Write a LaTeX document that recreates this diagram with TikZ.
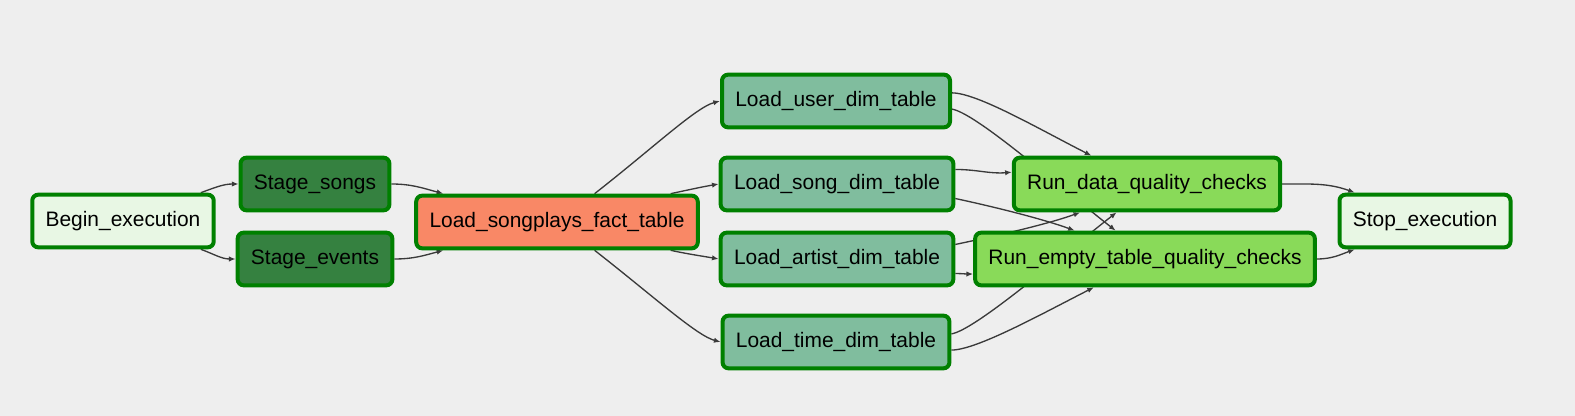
\documentclass[tikz,border=0pt]{standalone}
\usepackage{fontspec}
\setmainfont{Liberation Sans}
\usetikzlibrary{arrows.meta,backgrounds}
\definecolor{canvas}{HTML}{EEEEEE}
\definecolor{okgreen}{HTML}{008000}
\definecolor{dummyfill}{HTML}{E8F7E4}
\definecolor{stagefill}{HTML}{358140}
\definecolor{factfill}{HTML}{F98866}
\definecolor{dimfill}{HTML}{80BD9E}
\definecolor{checkfill}{HTML}{89DA59}
\definecolor{wire}{HTML}{3A3A3A}
\begin{document}
\begin{tikzpicture}[x=0.75pt, y=-0.75pt,
  every node/.style = {shape=rectangle, rounded corners=4.5pt, draw=okgreen,
    line width=3pt, inner xsep=10pt, minimum height=39.5pt,
    font=\fontsize{15.7pt}{18pt}\selectfont},
  dummy/.style = {fill=dummyfill},
  stage/.style = {fill=stagefill},
  fact/.style  = {fill=factfill},
  dim/.style   = {fill=dimfill},
  check/.style = {fill=checkfill},
  edge/.style  = {draw=wire, line width=1pt, -{Latex[length=5pt,width=4pt]}}]
  \begin{pgfonlayer}{background}
    \fill[canvas] (0,0) rectangle (1575,416);
  \end{pgfonlayer}
  \useasboundingbox (0,0) rectangle (1575,416);

  % tasks
  \node[dummy] (begin)   at (123,221)  {Begin\_execution};
  \node[stage] (ssongs)  at (315,184)  {Stage\_songs};
  \node[stage] (sevents) at (315,259)  {Stage\_events};
  \node[fact]  (fact)    at (557,222)  {Load\_songplays\_fact\_table};
  \node[dim]   (user)    at (836,101)  {Load\_user\_dim\_table};
  \node[dim]   (song)    at (837,184)  {Load\_song\_dim\_table};
  \node[dim]   (artist)  at (837,259)  {Load\_artist\_dim\_table};
  \node[dim]   (time)    at (836,342)  {Load\_time\_dim\_table};
  \node[check] (dqc)     at (1147,184) {Run\_data\_quality\_checks};
  \node[check] (empty)   at (1145,259) {Run\_empty\_table\_quality\_checks};
  \node[dummy] (stop)    at (1425,221) {Stop\_execution};

  % dependencies (y axis points down, so polar angles are mirrored)
  \begin{pgfonlayer}{background}
    \draw[edge] (begin.20)  to[out=20,in=180]  (ssongs.west);
    \draw[edge] (begin.-20) to[out=-20,in=180] (sevents.west);
    \draw[edge] (ssongs.east)  to[out=0,in=165]  (fact.166);
    \draw[edge] (sevents.east) to[out=0,in=195]  (fact.194);
    \draw[edge] (fact.37)  .. controls +(-38:75) and +(165:25) .. (user.west);
    \draw[edge] (fact.14)  to[out=12,in=190]  (song.west);
    \draw[edge] (fact.-14) to[out=-12,in=170] (artist.west);
    \draw[edge] (fact.-37) .. controls +(38:75) and +(195:25) .. (time.west);
    \draw[edge] (user.4)   .. controls +(0:25) and +(-153:60) .. (dqc.153);
    \draw[edge] (user.-4)  .. controls +(10:25) and +(-142:70) .. (empty.136);
    \draw[edge] (song.7)   to[out=0,in=185]   (dqc.175);
    \draw[edge] (song.-7)  .. controls +(12:25) and +(-160:40) .. (empty.158);
    \draw[edge] (artist.7) .. controls +(-12:25) and +(160:40) .. (dqc.-157);
    \draw[edge] (artist.-7) to[out=0,in=180]  (empty.185);
    \draw[edge] (time.4)   .. controls +(-10:25) and +(142:70) .. (dqc.-137);
    \draw[edge] (time.-4)  .. controls +(0:25) and +(153:60) .. (empty.-151);
    \draw[edge] (dqc.east)   to[out=0,in=160]  (stop.158);
    \draw[edge] (empty.east) to[out=0,in=200]  (stop.-158);
  \end{pgfonlayer}
\end{tikzpicture}
\end{document}
